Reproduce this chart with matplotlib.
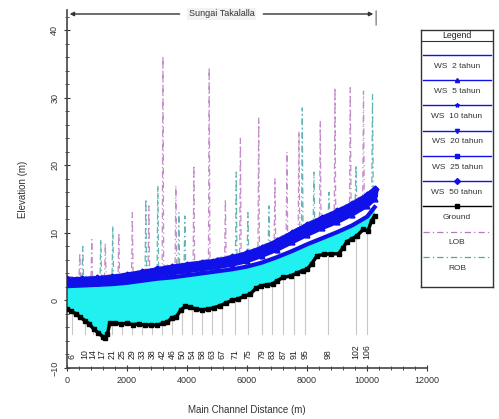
import numpy as np
import matplotlib
matplotlib.use("Agg")
import matplotlib.pyplot as plt
from matplotlib.ticker import MultipleLocator

plt.rcParams['font.family'] = ['Liberation Sans', 'DejaVu Sans']

# ---------------- data ----------------
ground_d = [0, 150, 300, 450, 600, 750, 900, 1050, 1200, 1270, 1350, 1430, 1600, 1800, 2000,
            2200, 2400, 2600, 2800, 3000, 3200, 3350, 3500, 3650, 3800, 3950, 4100, 4300, 4500,
            4700, 4900, 5100, 5300, 5500, 5700, 5900, 6100, 6300, 6450, 6650, 6850, 7000, 7200,
            7450, 7650, 7850, 8000, 8150, 8330, 8550, 8800, 9050, 9200, 9330, 9500, 9670, 9870,
            10030, 10150, 10250]
ground_z = [-1.3, -1.6, -2.0, -2.5, -3.0, -3.5, -4.3, -4.8, -5.4, -5.6, -5.0, -3.4, -3.3, -3.5, -3.4,
            -3.6, -3.5, -3.7, -3.6, -3.7, -3.4, -3.2, -2.6, -2.4, -1.4, -0.9, -1.0, -1.3, -1.4,
            -1.3, -1.1, -0.8, -0.4, 0.0, 0.2, 0.6, 0.9, 1.8, 2.1, 2.3, 2.4, 2.9, 3.4,
            3.6, 4.0, 4.4, 4.6, 5.4, 6.6, 6.8, 6.9, 6.9, 7.8, 8.7, 9.1, 9.6, 10.5,
            10.3, 11.8, 12.5]

ws_d = [0, 500, 1000, 1500, 2000, 2500, 3000, 3500, 4000, 4500, 5000, 5500, 6000, 6500,
        7000, 7500, 8000, 8500, 9000, 9500, 10000, 10250]
ws_50 = [3.1, 3.2, 3.3, 3.5, 3.8, 4.2, 4.6, 5.0, 5.3, 5.6, 5.9, 6.4, 7.0, 7.8, 8.8, 10.0, 11.2, 12.2, 13.2, 14.3, 15.6, 16.5]
ws_25 = [2.9, 3.0, 3.1, 3.3, 3.6, 4.0, 4.4, 4.8, 5.1, 5.4, 5.7, 6.2, 6.7, 7.5, 8.5, 9.6, 10.8, 11.8, 12.8, 13.9, 15.2, 16.1]
ws_20 = [2.8, 2.9, 3.0, 3.2, 3.5, 3.9, 4.3, 4.6, 4.9, 5.2, 5.5, 6.0, 6.5, 7.3, 8.3, 9.4, 10.6, 11.6, 12.6, 13.7, 15.0, 15.9]
ws_10 = [2.6, 2.7, 2.8, 3.0, 3.3, 3.6, 4.0, 4.3, 4.6, 4.9, 5.2, 5.7, 6.2, 7.0, 7.9, 9.0, 10.1, 11.1, 12.1, 13.2, 14.5, 15.4]
ws_5 = [2.4, 2.5, 2.6, 2.8, 3.0, 3.3, 3.7, 4.0, 4.3, 4.6, 4.9, 5.3, 5.8, 6.6, 7.5, 8.6, 9.7, 10.7, 11.6, 12.7, 14.0, 15.0]
ws_2 = [2.1, 2.2, 2.3, 2.4, 2.6, 2.9, 3.2, 3.4, 3.7, 4.0, 4.3, 4.6, 5.0, 5.6, 6.4, 7.3, 8.3, 9.2, 10.1, 11.1, 12.4, 13.8]

lob_d = [0,
         405, 430, 455, 805, 830, 855, 1255, 1280, 1305, 1705, 1730, 1755, 2155, 2180, 2205,
         2705, 2730, 2755, 3175, 3200, 3225, 3605, 3630, 3655, 4205, 4230, 4255, 4715, 4740, 4765,
         5255, 5280, 5305, 5755, 5780, 5805, 6365, 6390, 6415, 6905, 6930, 6955, 7305, 7330, 7355,
         7705, 7730, 7755, 8415, 8440, 8465, 8905, 8930, 8955, 9415, 9440, 9465, 9855, 9880, 9905,
         10250]
lob_z = [3.5,
         3.5, 7.0, 3.5, 3.6, 9.0, 3.6, 3.7, 8.5, 3.7, 3.9, 10.0, 3.9, 4.2, 13.0, 4.2,
         4.7, 14.0, 4.7, 5.1, 36.2, 5.1, 5.4, 17.0, 5.4, 5.7, 20.0, 5.7, 6.0, 34.5, 6.0,
         6.5, 15.0, 6.5, 7.0, 24.0, 7.0, 7.9, 27.0, 7.9, 9.0, 18.0, 9.0, 9.9, 22.0, 9.9,
         10.8, 25.0, 10.8, 12.4, 26.5, 12.4, 13.3, 31.5, 13.3, 14.5, 31.5, 14.5, 15.6, 31.0, 15.6,
         16.8]

rob_d = [0,
         505, 530, 555, 1105, 1130, 1155, 1505, 1530, 1555, 2605, 2630, 2655, 3005, 3030, 3055,
         3705, 3730, 3755, 3905, 3930, 3955, 5615, 5640, 5665, 6005, 6030, 6055, 6705, 6730, 6755,
         7815, 7840, 7865, 8205, 8230, 8255, 8705, 8730, 8755, 9605, 9630, 9655, 10155, 10180, 10205,
         10250]
rob_z = [3.3,
         3.4, 8.0, 3.4, 3.6, 9.0, 3.6, 3.7, 11.0, 3.7, 4.5, 15.0, 4.5, 4.8, 17.0, 4.8,
         5.3, 13.0, 5.3, 5.5, 12.5, 5.5, 6.7, 19.0, 6.7, 7.2, 13.0, 7.2, 8.4, 14.0, 8.4,
         11.0, 28.5, 11.0, 11.9, 19.0, 11.9, 12.8, 16.0, 12.8, 14.7, 20.0, 14.7, 16.4, 30.5, 16.4,
         16.6]

station_labels = ['6', '10', '14', '17', '21', '25', '29', '33', '38', '42', '46', '50', '54', '58',
                  '63', '67', '71', '75', '79', '83', '87', '91', '95', '98', '102', '106']
station_d = [170, 600, 870, 1170, 1500, 1830, 2170, 2500, 2830, 3170, 3500, 3830, 4170, 4500,
             4830, 5170, 5600, 6030, 6500, 6830, 7200, 7570, 7930, 8700, 9630, 10000]

reach_name = "Sungai Takalalla"
reach_start, reach_end = 0, 10300

legend_labels = ['WS  2 tahun', 'WS  5 tahun', 'WS  10 tahun', 'WS  20 tahun', 'WS  25 tahun',
                 'WS  50 tahun', 'Ground', 'LOB', 'ROB']

# ---------------- styles ----------------
blue = '#1010e8'
ws_series = [ws_2, ws_5, ws_10, ws_20, ws_25, ws_50]
ws_markers = [None, '^', '*', 'v', 's', 'D']
lob_color = '#b878c0'
rob_color = '#48a8a8'
bank_ls = (0, (5, 2.5, 1, 2.5))
cyan = '#20f0f0'

fig = plt.figure(figsize=(4.99, 4.19), dpi=100)
ax = fig.add_axes([0.134, 0.122, 0.722, 0.854])

# water fill
poly_x = np.concatenate([np.array(ground_d), np.array(ws_d)[::-1]])
poly_y = np.concatenate([np.array(ground_z), np.array(ws_2)[::-1]])
ax.fill(poly_x, poly_y, color=cyan, zorder=2, lw=0)

# station gray lines and labels
for d, lab in zip(station_d, station_labels):
    gz = np.interp(d, ground_d, ground_z)
    ax.plot([d, d], [-5.0, gz], color='#c8c8c8', lw=0.8, zorder=1)
    ax.text(d, -8.7, lab, rotation=90, ha='center', va='bottom', fontsize=6.3, color='#222222', zorder=3)

# LOB / ROB
ax.plot(lob_d, lob_z, color=lob_color, lw=0.9, ls=bank_ls, alpha=0.85, zorder=1.5)
ax.plot(rob_d, rob_z, color=rob_color, lw=0.9, ls=bank_ls, alpha=0.85, zorder=1.5)

# WS profiles
for ws, mk in zip(ws_series, ws_markers):
    ax.plot(ws_d, ws, color=blue, lw=3.0, marker=mk, ms=3.5, zorder=4)

# ground
ax.plot(ground_d, ground_z, color='black', lw=2.5, marker='s', ms=3.5, zorder=5)

ax.set_xlim(0, 12000)
ax.set_ylim(-10, 43)
ax.xaxis.set_major_locator(MultipleLocator(2000))
ax.xaxis.set_minor_locator(MultipleLocator(400))
ax.yaxis.set_major_locator(MultipleLocator(10))
ax.yaxis.set_minor_locator(MultipleLocator(2))
for s in ['top', 'right']:
    ax.spines[s].set_visible(False)
for s in ['left', 'bottom']:
    ax.spines[s].set_color('#444444')
    ax.spines[s].set_linewidth(1.2)
ax.tick_params(which='major', direction='inout', length=4, width=0.8, labelsize=6.5, colors='#333333')
ax.tick_params(which='minor', direction='inout', length=2.5, width=0.6, colors='#333333')
for t in ax.get_yticklabels():
    t.set_rotation(90)
    t.set_va('center')
ax.set_xlabel('Main Channel Distance (m)', fontsize=7, color='#333333', labelpad=15)
ax.set_ylabel('Elevation (m)', fontsize=7, color='#333333', labelpad=16)

# reach annotation (y in figure fraction)
tr = ('data', 'figure fraction')
ym = 1 - 14 / 419
mid = (reach_start + reach_end) / 2
ax.annotate('', xy=(reach_start, ym), xytext=(mid - 1300, ym), xycoords=tr, textcoords=tr,
            arrowprops=dict(arrowstyle='-|>', color='#333333', lw=1.0, mutation_scale=6), annotation_clip=False)
ax.annotate('', xy=(reach_end, ym), xytext=(mid + 1300, ym), xycoords=tr, textcoords=tr,
            arrowprops=dict(arrowstyle='-|>', color='#333333', lw=1.0, mutation_scale=6), annotation_clip=False)
ax.annotate(reach_name, xy=(mid, ym), xycoords=tr, ha='center', va='center', fontsize=6.5, color='#333333',
            bbox=dict(boxstyle='square,pad=0.2', fc='#f2f2f2', ec='none'), annotation_clip=False)
ax.annotate('', xy=(reach_start, 1 - 8 / 419), xytext=(reach_start, 1 - 22 / 419), xycoords=tr, textcoords=tr,
            arrowprops=dict(arrowstyle='-', color='#666666', lw=0.8), annotation_clip=False)
ax.annotate('', xy=(reach_end, 1 - 8 / 419), xytext=(reach_end, 1 - 28 / 419), xycoords=tr, textcoords=tr,
            arrowprops=dict(arrowstyle='-', color='#666666', lw=0.8), annotation_clip=False)

# legend box
lx0, lx1, ly0, ly1 = 421, 493, 30, 287
lax = fig.add_axes([lx0 / 499, 1 - ly1 / 419, (lx1 - lx0) / 499, (ly1 - ly0) / 419])
lax.set_xlim(0, lx1 - lx0)
lax.set_ylim(ly1 - ly0, 0)
lax.set_xticks([])
lax.set_yticks([])
for s in lax.spines.values():
    s.set_color('#333333')
    s.set_linewidth(1.0)
lax.axhline(11, color='#333333', lw=0.8)
lax.text(36, 5.5, 'Legend', ha='center', va='center', fontsize=6.3, color='#222222')
styles = [dict(color=blue, lw=1.0, marker=m, ms=3) for m in ws_markers] + [
    dict(color='black', lw=1.0, marker='s', ms=3),
    dict(color=lob_color, lw=0.9, ls=bank_ls),
    dict(color=rob_color, lw=0.9, ls=bank_ls)]
for i, (lab, st) in enumerate(zip(legend_labels, styles)):
    yl = 25 + 25.25 * i
    st = dict(st)
    mk = st.pop('marker', None)
    ms = st.pop('ms', 3)
    lax.plot([2, 70], [yl, yl], **st)
    if mk:
        lax.plot([36], [yl], marker=mk, ms=ms, color=st['color'], ls='none')
    lax.text(36, yl + 11, lab, ha='center', va='center', fontsize=6.0, color='#333333')

fig.savefig('out.png', dpi=100)
